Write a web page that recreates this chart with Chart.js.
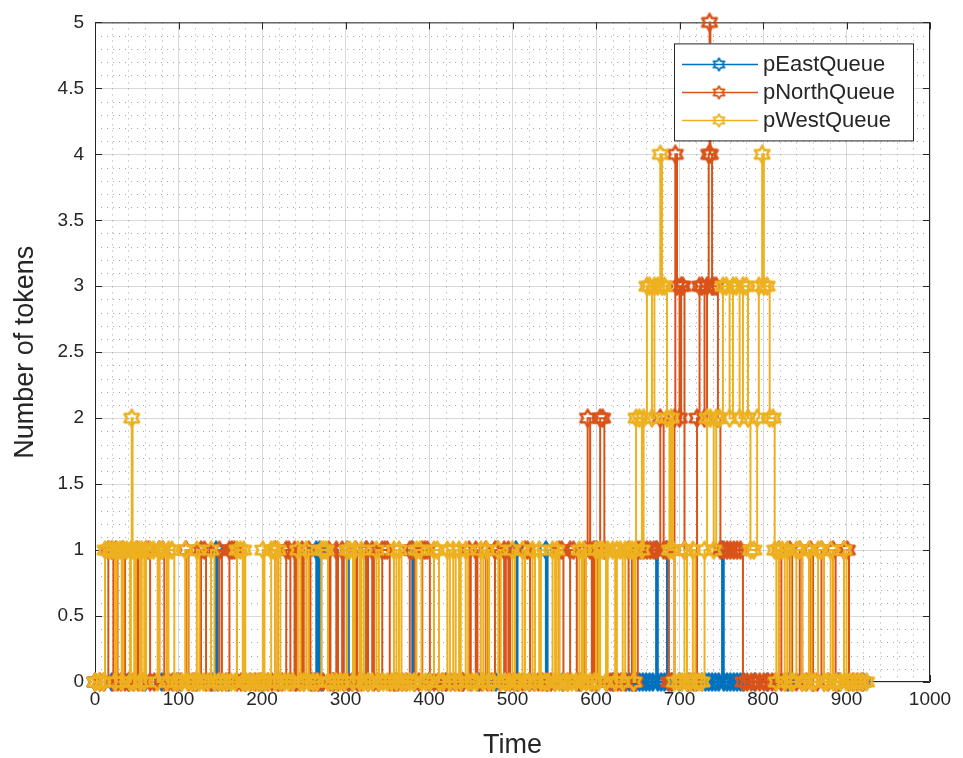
<!DOCTYPE html>
<html>
<head>
    <title>Queue tokens</title>
    <script src="https://cdn.jsdelivr.net/npm/chart.js"></script>
    <style>
        html, body { margin: 0; padding: 0; background: #fff; }
    </style>
</head>
<body>
<canvas id="tokenChart" width="963" height="758"></canvas>
<script>
    const seriesNames = ['pEastQueue', 'pNorthQueue', 'pWestQueue'];
    const seriesColors = ['#0072BD', '#D95319', '#EDB120'];
    const xTicks = [0, 100, 200, 300, 400, 500, 600, 700, 800, 900, 1000];
    const yTicks = [0, 0.5, 1, 1.5, 2, 2.5, 3, 3.5, 4, 4.5, 5];

    // [time, tokens]
    const eastQueue = [
        [0,0],[20,0],[40,0],[60,0],[80,0],[100,0],[120,0],[140,0],[145,1],[147,0],[160,0],[180,0],
        [200,0],[220,0],[240,0],[260,0],[265,1],[267,0],[269,1],[271,0],[285,0],[302,1],[304,0],[315,0],
        [325,1],[327,0],[340,0],[360,0],[380,1],[382,0],[400,0],[420,0],[440,0],[460,0],[480,0],[504,1],
        [506,0],[520,0],[540,1],[542,0],[560,0],[580,0],[599,1],[601,0],[620,0],[636,0],[640,0],[644,0],
        [648,0],[652,0],[656,0],[660,0],[664,0],[668,0],[672,1],[674,0],[678,0],[682,0],[685,1],[687,0],
        [691,0],[700,0],[710,0],[720,0],[727,0],[731,0],[735,0],[739,0],[743,0],[747,0],[751,1],[753,0],
        [757,0],[761,0],[765,0],[769,0],[773,0],[777,0],[790,0],[805,0],[830,0],[860,0],[890,0],[920,0]
    ];
    const northQueue = [
        [0,0],[6,0],[11,0],[16,1],[20,1],[22,0],[25,1],[27,0],[31,0],[33,1],[36,0],[41,0],[46,0],[50,1],
        [52,0],[57,0],[61,1],[64,1],[66,0],[71,0],[77,1],[81,1],[83,0],[88,0],[93,0],[98,0],
        [103,0],[109,1],[112,0],[117,0],[122,0],[127,1],[131,1],[133,0],[138,0],[143,0],[149,1],[152,0],
        [157,0],[161,1],[164,1],[167,1],[170,0],[175,0],[180,0],[186,0],[192,0],[197,0],
        [202,0],[207,0],[212,0],[216,1],[219,0],[224,0],[229,1],[232,1],[234,0],[239,1],[241,0],[245,0],
        [248,1],[250,0],[256,1],[258,0],[263,0],[268,0],[273,0],[280,1],[282,0],[286,0],[289,1],[291,0],
        [296,1],[298,0],
        [303,0],[308,0],[312,1],[314,0],[319,0],[325,1],[327,0],[332,1],[334,0],[339,0],[344,1],[347,1],
        [350,1],[353,0],[358,0],[363,0],[368,0],[373,0],[377,1],[380,1],[383,0],[388,0],[392,1],[395,1],
        [398,1],[401,0],
        [406,0],[411,0],[416,0],[421,0],[426,0],[431,0],[436,0],[441,0],[448,1],[450,0],[456,1],[458,0],
        [463,0],[468,1],[470,0],[475,0],[479,1],[482,1],[485,0],[490,1],[492,0],[495,1],[497,0],
        [502,0],[507,0],[512,0],[515,1],[518,1],[521,0],[526,0],[531,0],[536,0],[541,0],[546,0],[551,0],
        [556,1],[559,1],[561,0],[566,0],[569,1],[573,1],[577,0],[582,0],[587,1],[590,2],[593,1],[595,0],
        [597,1],[599,0],
        [601,1],[605,2],[608,2],[610,1],[613,0],[617,0],[621,0],[626,0],[630,0],[635,0],[639,1],[643,0],
        [647,0],[650,1],[653,1],[657,1],[661,1],[665,1],[669,1],[673,1],[677,2],[681,1],[684,1],[687,0],
        [690,0],[694,2],[695,4],[697,3],[700,2],[702,3],[704,3],[706,1],[709,0],[713,0],[717,0],[721,2],
        [724,3],[727,3],[730,2],[733,3],[735,4],[736,5],[737,4],[739,3],[741,3],[744,3],[746,2],[749,1],
        [753,1],[757,1],[761,1],[765,1],[769,1],[773,1],[776,0],[781,0],[786,0],[791,0],[796,0],[801,0],
        [806,0],[811,0],[815,0],
        [819,1],[822,0],[827,0],[832,1],[835,0],[840,0],[844,1],[847,0],[852,0],[857,1],[860,0],[865,0],
        [870,1],[873,0],[878,0],[884,1],[887,0],[892,0],[897,1],[901,1],[903,0],[908,0],[913,0],[918,0]
    ];
    const westQueue = [
        [0,0],[5,0],[10,0],[12,1],[17,1],[21,1],[24,0],[26,1],[30,1],[32,0],[34,1],[38,1],[42,0],[43,1],
        [44,2],[45,1],[47,0],[49,1],[53,1],[54,0],[56,1],[59,0],[61,1],[66,1],[70,1],[75,0],[77,1],[81,1],
        [86,0],[88,1],[92,1],[95,0],[99,0],
        [104,0],[108,1],[111,0],[116,0],[120,0],[122,1],[125,0],[130,0],[135,0],[139,1],[143,0],[148,0],
        [153,0],[158,0],[163,0],[168,0],[170,1],[174,1],[177,0],[178,1],[180,0],[185,0],[190,0],[195,0],
        [199,0],
        [201,1],[203,0],[208,0],[211,1],[214,1],[216,0],[219,1],[222,0],[227,0],[232,0],[237,0],[243,1],
        [246,0],[250,0],[253,1],[256,0],[261,0],[266,0],[271,1],[274,1],[277,1],[279,0],[284,0],[289,0],
        [294,0],[299,0],
        [302,1],[305,1],[309,0],[311,1],[317,0],[319,1],[322,0],[327,0],[332,0],[337,1],[340,0],[345,0],
        [350,0],[355,0],[358,1],[361,0],[364,1],[367,0],[372,0],[377,0],[382,0],[385,1],[389,1],[391,0],
        [396,0],
        [401,0],[406,1],[410,1],[412,0],[417,0],[422,1],[425,0],[429,1],[432,0],[436,1],[438,0],[444,1],
        [447,0],[452,0],[457,0],[462,1],[465,0],[469,1],[472,0],[477,0],[483,1],[486,0],[491,0],[496,0],
        [500,1],
        [503,0],[508,0],[512,1],[515,0],[520,0],[524,1],[527,0],[532,1],[534,0],[539,0],[543,0],[548,1],
        [551,0],[553,1],[556,0],[561,0],[566,0],[571,0],[576,0],[580,1],[583,0],[585,1],[588,0],[593,0],
        [598,0],
        [600,1],[603,0],[605,1],[608,1],[612,0],[614,1],[620,1],[623,0],[625,1],[629,1],[632,0],[635,1],
        [640,1],[643,1],[645,0],[647,1],[648,2],[652,2],[655,1],[657,2],[661,3],[664,3],[667,2],[670,3],
        [674,3],[677,4],[679,3],[682,3],[685,2],[688,1],[690,2],[692,1],[694,0],[699,0],
        [703,0],[706,1],[709,0],[713,0],[716,1],[719,0],[723,0],[727,0],[730,1],[733,2],[737,2],[741,1],
        [744,2],[748,2],[752,3],[756,3],[760,2],[764,3],[768,3],[772,2],[776,3],[780,3],[782,2],[785,1],
        [789,1],[793,2],[795,3],[799,4],[801,3],[805,3],[808,2],[812,2],[814,1],[816,0],
        [819,1],[823,1],[826,0],[829,1],[833,0],[836,0],[840,1],[844,1],[847,0],[851,0],[855,1],[858,0],
        [862,0],[866,1],[870,1],[873,0],[877,0],[881,1],[884,0],[888,0],[893,0],[897,1],[900,0],[904,0],
        [909,0],[914,0],[919,0],[924,0]
    ];

    const axisColor = '#262626';
    Chart.defaults.font.family = '"Liberation Sans", Arial, sans-serif';
    Chart.defaults.color = axisColor;

    // six pointed star marker, outline only
    function hexagram(color, size, width) {
        const c = document.createElement('canvas');
        c.width = size; c.height = size;
        const g = c.getContext('2d');
        const m = size / 2, R = m - width / 2 - 0.3;
        g.strokeStyle = color;
        g.lineWidth = width;
        g.lineJoin = 'round';
        g.beginPath();
        for (let k = 0; k < 12; k++) {
            const r = k % 2 ? R / Math.sqrt(3) : R;
            const a = -Math.PI / 2 + k * Math.PI / 6;
            const px = m + r * Math.cos(a), py = m + r * Math.sin(a);
            if (k === 0) g.moveTo(px, py); else g.lineTo(px, py);
        }
        g.closePath();
        g.stroke();
        return c;
    }
    const markers = seriesColors.map(c => hexagram(c, 20, 2.6));
    const legendMarkers = seriesColors.map(c => hexagram(c, 15, 1.8));

    function makeSet(i, pairs, order) {
        return {
            label: seriesNames[i],
            data: pairs.map(([t, n]) => ({x: t, y: n})),
            borderColor: seriesColors[i],
            backgroundColor: seriesColors[i],
            borderWidth: 2,
            stepped: true,
            pointStyle: markers[i],
            pointRadius: 9,
            pointHoverRadius: 9,
            fill: false,
            clip: false,
            order: order
        };
    }

    //minor dotted grid + inward ticks + box
    const frame = {
        id: 'frame',
        beforeDatasetsDraw(chart) {
            const {ctx, chartArea: a, scales: {x, y}} = chart;
            ctx.save();
            ctx.strokeStyle = 'rgba(0,0,0,0.35)';
            ctx.lineWidth = 1;
            ctx.setLineDash([1, 5]);
            ctx.beginPath();
            for (let v = 20; v < 1000; v += 20) {
                if (v % 100 === 0) continue;
                const px = Math.round(x.getPixelForValue(v)) + 0.5;
                ctx.moveTo(px, a.top); ctx.lineTo(px, a.bottom);
            }
            for (let k = 1; k < 50; k++) {
                if (k % 5 === 0) continue;
                const py = Math.round(y.getPixelForValue(k / 10)) + 0.5;
                ctx.moveTo(a.left, py); ctx.lineTo(a.right, py);
            }
            ctx.stroke();

            ctx.setLineDash([]);
            ctx.strokeStyle = axisColor;
            ctx.beginPath();
            ctx.rect(a.left + 0.5, a.top + 0.5, a.width - 1, a.height - 1);
            xTicks.forEach(v => {
                const px = Math.round(x.getPixelForValue(v)) + 0.5;
                ctx.moveTo(px, a.bottom); ctx.lineTo(px, a.bottom - 7);
                ctx.moveTo(px, a.top); ctx.lineTo(px, a.top + 7);
            });
            yTicks.forEach(v => {
                const py = Math.round(y.getPixelForValue(v)) + 0.5;
                ctx.moveTo(a.left, py); ctx.lineTo(a.left + 7, py);
                ctx.moveTo(a.right, py); ctx.lineTo(a.right - 7, py);
            });
            ctx.stroke();
            ctx.restore();
        }
    };

    const legendBox = {
        id: 'legendBox',
        afterDatasetsDraw(chart) {
            const {ctx, chartArea: a} = chart;
            const left = a.right - 256, top = a.top + 21, w = 239, h = 97;
            ctx.save();
            ctx.fillStyle = '#fff';
            ctx.fillRect(left, top, w, h);
            ctx.strokeStyle = axisColor;
            ctx.lineWidth = 1;
            ctx.strokeRect(left + 0.5, top + 0.5, w, h);
            ctx.font = '22px "Liberation Sans", Arial, sans-serif';
            ctx.textBaseline = 'middle';
            seriesNames.forEach((name, i) => {
                const yy = top + 21 + i * 28;
                ctx.strokeStyle = seriesColors[i];
                ctx.lineWidth = 1.5;
                ctx.beginPath();
                ctx.moveTo(left + 8, yy); ctx.lineTo(left + 84, yy);
                ctx.stroke();
                ctx.drawImage(legendMarkers[i], left + 45 - 7.5, yy - 7.5);
                ctx.fillStyle = axisColor;
                ctx.fillText(name, left + 89, yy + 1);
            });
            ctx.restore();
        }
    };

    new Chart(document.getElementById('tokenChart'), {
        type: 'line',
        data: {
            datasets: [
                makeSet(0, eastQueue, 3),
                makeSet(1, northQueue, 2),
                makeSet(2, westQueue, 1)
            ]
        },
        options: {
            responsive: false,
            animation: false,
            layout: { padding: { top: 19, right: 33, left: 0, bottom: 0 } },
            plugins: { legend: { display: false }, tooltip: { enabled: false } },
            scales: {
                x: {
                    type: 'linear', min: 0, max: 1000,
                    afterBuildTicks: s => { s.ticks = xTicks.map(v => ({value: v})); },
                    afterFit: s => { s.height = 76; },
                    grid: { color: 'rgba(0,0,0,0.15)', drawTicks: false },
                    border: { display: false },
                    ticks: { padding: 6, font: { size: 19 }, maxRotation: 0, autoSkip: false, callback: v => String(v) },
                    title: { display: true, text: 'Time', font: { size: 27 }, padding: { top: 0, bottom: -4 } }
                },
                y: {
                    min: 0, max: 5,
                    afterBuildTicks: s => { s.ticks = yTicks.map(v => ({value: v})); },
                    afterFit: s => { s.width = 95; },
                    grid: { color: 'rgba(0,0,0,0.15)', drawTicks: false },
                    border: { display: false },
                    ticks: { padding: 11, font: { size: 19 }, autoSkip: false, callback: v => String(v) },
                    title: { display: true, text: 'Number of tokens', font: { size: 27 }, padding: { top: 9, bottom: 0 } }
                }
            }
        },
        plugins: [frame, legendBox]
    });
</script>
</body>
</html>
